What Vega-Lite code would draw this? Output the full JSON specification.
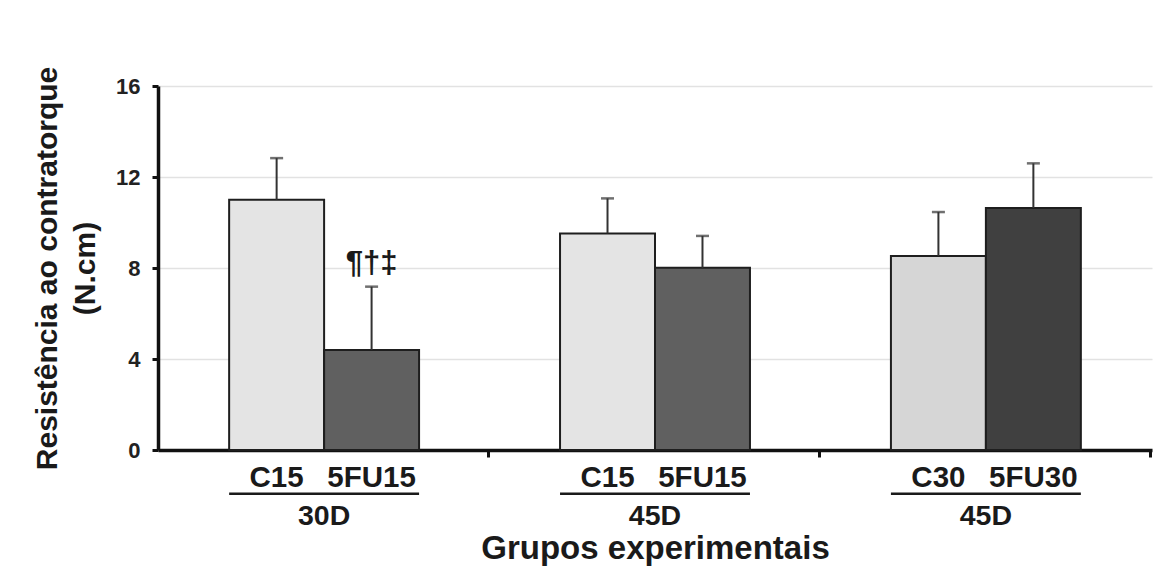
{
  "$schema": "https://vega.github.io/schema/vega-lite/v6.json",
  "width": 994,
  "height": 364,
  "autosize": {"type": "none"},
  "padding": {"left": 158, "top": 86, "right": 19, "bottom": 121},
  "background": "white",
  "config": {"font": "Liberation Sans", "view": {"stroke": null}},
  "data": {
    "values": [
      {"grupo": "30D (15)", "dias": "30D", "trat": "Controle", "rotulo": "C15", "media": 11.0, "sup": 12.83, "nota": ""},
      {"grupo": "30D (15)", "dias": "30D", "trat": "5FU", "rotulo": "5FU15", "media": 4.4, "sup": 7.18, "nota": "¶†‡"},
      {"grupo": "45D (15)", "dias": "45D", "trat": "Controle", "rotulo": "C15", "media": 9.52, "sup": 11.06, "nota": ""},
      {"grupo": "45D (15)", "dias": "45D", "trat": "5FU", "rotulo": "5FU15", "media": 8.01, "sup": 9.41, "nota": ""},
      {"grupo": "45D (30)", "dias": "45D", "trat": "Controle", "rotulo": "C30", "media": 8.53, "sup": 10.46, "nota": ""},
      {"grupo": "45D (30)", "dias": "45D", "trat": "5FU", "rotulo": "5FU30", "media": 10.64, "sup": 12.6, "nota": ""}
    ]
  },
  "encoding": {
    "x": {
      "field": "grupo",
      "type": "nominal",
      "sort": ["30D (15)", "45D (15)", "45D (30)"],
      "scale": {"paddingInner": 0.426, "paddingOuter": 0.215},
      "axis": {
        "title": "Grupos experimentais",
        "labels": false,
        "grid": false,
        "ticks": true,
        "tickSize": 7,
        "tickWidth": 3,
        "tickColor": "#111111",
        "bandPosition": 1.366,
        "domainColor": "#111111",
        "domainWidth": 3.5,
        "titleFontSize": 33,
        "titleFontWeight": "bold",
        "titleColor": "#1a1a1a",
        "titlePadding": 74
      }
    }
  },
  "layer": [
    {
      "mark": {"type": "bar", "stroke": "#1e1e1e", "strokeWidth": 2},
      "encoding": {
        "xOffset": {"field": "trat", "type": "nominal", "sort": ["Controle", "5FU"], "scale": {"paddingInner": 0, "paddingOuter": 0}},
        "y": {
          "field": "media",
          "type": "quantitative",
          "scale": {"domain": [0, 16], "nice": false},
          "axis": {
            "title": ["Resistência ao contratorque", "(N.cm)"],
            "values": [0, 4, 8, 12, 16],
            "grid": true,
            "gridColor": "#e2e2e2",
            "gridWidth": 1.5,
            "domainColor": "#111111",
            "domainWidth": 3.5,
            "tickColor": "#111111",
            "tickWidth": 3,
            "tickSize": 6,
            "labelFontSize": 22,
            "labelFontWeight": "bold",
            "labelColor": "#222222",
            "labelPadding": 12,
            "titleFontSize": 30,
            "titleFontWeight": "bold",
            "titleColor": "#1a1a1a",
            "titlePadding": 15,
            "titleLineHeight": 38
          }
        },
        "color": {
          "field": "rotulo",
          "type": "nominal",
          "scale": {"domain": ["C15", "5FU15", "C30", "5FU30"], "range": ["#e4e4e4", "#606060", "#d6d6d6", "#404040"]},
          "legend": null
        }
      }
    },
    {
      "mark": {"type": "rule", "color": "#333333", "strokeWidth": 2},
      "encoding": {
        "xOffset": {"field": "trat", "type": "nominal", "sort": ["Controle", "5FU"]},
        "y": {"field": "media", "type": "quantitative"},
        "y2": {"field": "sup"}
      }
    },
    {
      "mark": {"type": "tick", "color": "#333333", "size": 13, "thickness": 2.5},
      "encoding": {
        "xOffset": {"field": "trat", "type": "nominal", "sort": ["Controle", "5FU"]},
        "y": {"field": "sup", "type": "quantitative"}
      }
    },
    {
      "mark": {"type": "text", "dy": -14, "fontSize": 31, "fontWeight": "bold", "color": "#1a1a1a", "baseline": "alphabetic"},
      "encoding": {
        "xOffset": {"field": "trat", "type": "nominal", "sort": ["Controle", "5FU"]},
        "y": {"field": "sup", "type": "quantitative"},
        "text": {"field": "nota"}
      }
    },
    {
      "mark": {"type": "text", "dy": 37, "fontSize": 29.5, "fontWeight": "bold", "color": "#1a1a1a", "baseline": "alphabetic"},
      "encoding": {
        "xOffset": {"field": "trat", "type": "nominal", "sort": ["Controle", "5FU"]},
        "y": {"datum": 0},
        "text": {"field": "rotulo"}
      }
    },
    {
      "transform": [{"filter": "datum.trat == 'Controle'"}],
      "mark": {"type": "rect", "yOffset": 42.5, "y2Offset": 45, "color": "#1a1a1a"},
      "encoding": {
        "y": {"datum": 0},
        "y2": {"datum": 0}
      }
    },
    {
      "transform": [{"filter": "datum.trat == 'Controle'"}],
      "mark": {"type": "text", "dy": 75, "fontSize": 28.5, "fontWeight": "bold", "color": "#1a1a1a", "baseline": "alphabetic"},
      "encoding": {
        "y": {"datum": 0},
        "text": {"field": "dias"}
      }
    }
  ]
}
